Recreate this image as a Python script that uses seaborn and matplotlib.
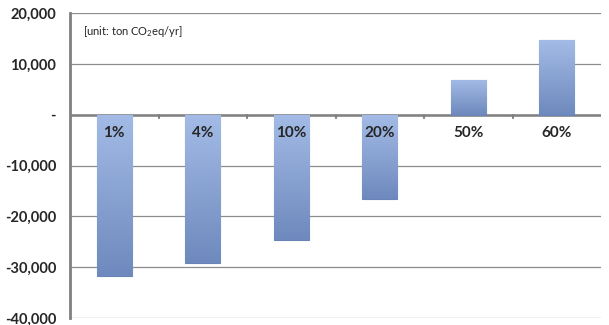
import numpy as np
import pandas as pd
import seaborn as sns
import matplotlib
matplotlib.use('Agg')
import matplotlib.pyplot as plt
from matplotlib.ticker import FuncFormatter

categories = ["1%", "4%", "10%", "20%", "50%", "60%"]
values = [-31700, -29100, -24600, -16500, 6900, 14700]
yticks = [-40000, -30000, -20000, -10000, 0, 10000, 20000]

sns.set_style("white")
plt.rcParams['font.family'] = ['Lato', 'DejaVu Sans']
plt.rcParams['mathtext.default'] = 'regular'

data = pd.DataFrame({"Share": categories, "Value": values})

fig = plt.figure(figsize=(6.09, 3.25), dpi=100)
ax = fig.add_axes([70 / 609, 7 / 325, 531 / 609, 305 / 325])

ax.set_axisbelow(True)
ax.yaxis.grid(True, color="#8c8c8c", linewidth=0.9)
ax = sns.barplot(x="Share", y="Value", data=data, color="#89a4d6",
                 width=0.4, edgecolor="#6a84b5", linewidth=0.8, saturation=1,
                 ax=ax, zorder=3)

# vertical gradient on each bar, darker at the bottom
grad = np.linspace(0, 1, 256).reshape(-1, 1)
cmap = matplotlib.colors.LinearSegmentedColormap.from_list("b", ["#6e89bd", "#a3bbe6"])
for p in ax.patches:
    x0, y0 = p.get_x(), p.get_y()
    w, h = p.get_width(), p.get_height()
    ylo, yhi = min(y0, y0 + h), max(y0, y0 + h)
    im = ax.imshow(grad, extent=[x0, x0 + w, ylo, yhi], origin="lower",
                   cmap=cmap, aspect="auto", zorder=3)
    im.set_clip_path(p)

ax.set_xlim(-0.5, len(categories) - 0.5)
ax.set_ylim(-40000, 20000)
ax.set_yticks(yticks)
ax.yaxis.set_major_formatter(FuncFormatter(lambda v, _: "-" if v == 0 else f"{v:,.0f}"))
ax.tick_params(axis="y", labelsize=10.5, length=4, width=1.5, color="#808080", pad=6)
for t in ax.get_yticklabels():
    t.set_fontweight("bold")

ax.set_xticks([])
ax.set_xlabel("")
ax.set_ylabel("")
for s in ["top", "right", "bottom"]:
    ax.spines[s].set_visible(False)
ax.spines["left"].set_color("#808080")
ax.spines["left"].set_linewidth(2)

# zero line acts as the category axis, with ticks between categories
ax.axhline(0, color="#808080", linewidth=1.8, zorder=2)
trans = matplotlib.transforms.blended_transform_factory(ax.transData, ax.transAxes)
zero_frac = (0 - (-40000)) / 60000
for b in np.arange(0.5, len(categories) - 0.5, 1.0):
    ax.plot([b, b], [zero_frac, zero_frac - 0.012], transform=trans, color="#808080", linewidth=1.5, zorder=2)

for i, c in enumerate(categories):
    ax.annotate(c, (i, 0), xytext=(0, -8), textcoords="offset points",
                ha="center", va="top", fontsize=11, fontweight="bold", zorder=5)

ax.text(0.025, 0.965, "[unit: ton CO$_2$eq/yr]", transform=ax.transAxes,
        fontsize=8, ha="left", va="top")

plt.savefig("out.png", dpi=100)
